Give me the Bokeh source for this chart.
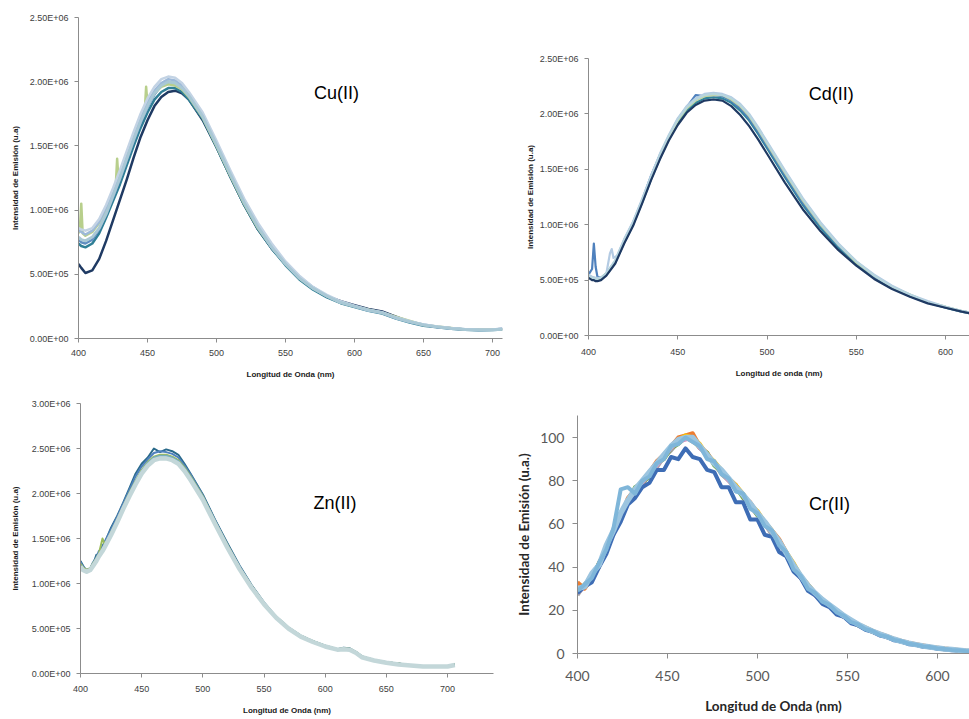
from bokeh.plotting import figure
from bokeh.models import Label, FixedTicker, Range1d
from bokeh.embed import file_html
from bokeh.resources import INLINE

# ---------------- DATA ----------------
# intensities of panels Cu, Cd, Zn are in units of 1e6 (a.u.)
cu_x = [400, 402, 405, 410, 415, 420, 425, 430, 435, 440, 445, 450, 455, 460, 465, 470, 475, 480, 490, 500,
        510, 520, 530, 540, 550, 560, 570, 580, 590, 600, 610, 620, 630, 640, 650, 660, 670, 680, 690, 700, 707]
cu_navy = [0.58, 0.55, 0.51, 0.53, 0.62, 0.76, 0.92, 1.08, 1.24, 1.41, 1.57, 1.70, 1.81, 1.88, 1.92, 1.93, 1.91, 1.86, 1.70, 1.49,
           1.26, 1.04, 0.85, 0.70, 0.58, 0.47, 0.39, 0.33, 0.29, 0.26, 0.23, 0.21, 0.17, 0.13, 0.105, 0.09, 0.08, 0.07, 0.068, 0.07, 0.074]
cu_teal = [0.74, 0.72, 0.71, 0.74, 0.82, 0.94, 1.07, 1.20, 1.35, 1.50, 1.64, 1.76, 1.86, 1.92, 1.95, 1.95, 1.92, 1.86, 1.71, 1.49,
           1.26, 1.04, 0.85, 0.70, 0.57, 0.46, 0.38, 0.32, 0.275, 0.245, 0.215, 0.195, 0.155, 0.125, 0.10, 0.088, 0.076, 0.068, 0.064, 0.066, 0.07]
cu_blue = [0.77, 0.75, 0.74, 0.77, 0.85, 0.97, 1.10, 1.24, 1.39, 1.54, 1.68, 1.80, 1.90, 1.97, 2.00, 1.99, 1.95, 1.88, 1.72, 1.50,
           1.27, 1.05, 0.86, 0.71, 0.58, 0.47, 0.39, 0.33, 0.28, 0.25, 0.22, 0.20, 0.16, 0.13, 0.105, 0.09, 0.078, 0.07, 0.066, 0.068, 0.072]
cu_green_x = [400, 401, 402, 403, 405, 410, 415, 420, 425, 427, 428, 429, 430, 435, 440, 445, 447, 448, 449, 450,
              455, 460, 465, 470, 475, 480, 490, 500, 510, 520, 530, 540, 550, 560, 570, 580, 590, 600, 620, 650, 680, 707]
cu_green = [0.82, 0.85, 1.05, 0.82, 0.80, 0.83, 0.90, 1.01, 1.14, 1.19, 1.40, 1.23, 1.26, 1.41, 1.56, 1.70, 1.74, 1.77, 1.96, 1.82,
            1.91, 1.96, 1.98, 1.97, 1.94, 1.88, 1.72, 1.50, 1.27, 1.05, 0.86, 0.71, 0.58, 0.47, 0.39, 0.33, 0.28, 0.25, 0.20, 0.105, 0.07, 0.072]
cu_lightblue = [0.84, 0.83, 0.81, 0.84, 0.91, 1.02, 1.15, 1.29, 1.44, 1.58, 1.72, 1.84, 1.93, 1.99, 2.02, 2.01, 1.97, 1.90, 1.74, 1.52,
                1.29, 1.07, 0.88, 0.72, 0.59, 0.48, 0.40, 0.33, 0.28, 0.25, 0.22, 0.20, 0.16, 0.13, 0.11, 0.092, 0.08, 0.072, 0.068, 0.07, 0.075]
cu_paleblue = [0.86, 0.85, 0.84, 0.86, 0.93, 1.04, 1.17, 1.31, 1.46, 1.61, 1.75, 1.87, 1.96, 2.02, 2.04, 2.03, 1.99, 1.92, 1.76, 1.54,
               1.31, 1.09, 0.90, 0.74, 0.60, 0.49, 0.40, 0.34, 0.29, 0.255, 0.225, 0.205, 0.165, 0.135, 0.11, 0.093, 0.081, 0.073, 0.069, 0.071, 0.076]
cu_cyan = [0.79, 0.77, 0.76, 0.79, 0.86, 0.97, 1.11, 1.25, 1.40, 1.55, 1.69, 1.81, 1.91, 1.97, 2.00, 1.99, 1.95, 1.89, 1.73, 1.51,
           1.28, 1.06, 0.87, 0.71, 0.58, 0.47, 0.39, 0.33, 0.28, 0.25, 0.22, 0.20, 0.16, 0.13, 0.105, 0.09, 0.078, 0.07, 0.066, 0.068, 0.072]

cd_x = [400, 402, 403, 404, 405, 407, 410, 415, 420, 425, 430, 435, 440, 445, 450, 455, 460, 465, 470, 475,
        480, 485, 490, 495, 500, 510, 520, 530, 540, 550, 560, 570, 580, 590, 600, 609, 614]
cd_navy = [0.52, 0.50, 0.50, 0.49, 0.49, 0.50, 0.54, 0.65, 0.83, 0.99, 1.19, 1.40, 1.59, 1.76, 1.90, 2.01, 2.08, 2.12, 2.13, 2.12,
           2.07, 1.99, 1.89, 1.77, 1.64, 1.38, 1.14, 0.94, 0.77, 0.63, 0.51, 0.42, 0.35, 0.29, 0.25, 0.215, 0.20]
cd_teal = [0.53, 0.51, 0.51, 0.50, 0.50, 0.51, 0.55, 0.66, 0.84, 1.00, 1.20, 1.41, 1.60, 1.77, 1.92, 2.03, 2.10, 2.14, 2.15, 2.14,
           2.10, 2.03, 1.94, 1.82, 1.69, 1.43, 1.18, 0.97, 0.79, 0.64, 0.52, 0.43, 0.355, 0.295, 0.25, 0.215, 0.20]
cd_blue = [0.55, 0.60, 0.83, 0.62, 0.53, 0.52, 0.56, 0.67, 0.86, 1.02, 1.22, 1.44, 1.63, 1.79, 1.95, 2.06, 2.17, 2.16, 2.17, 2.16,
           2.12, 2.05, 1.96, 1.84, 1.71, 1.45, 1.20, 0.99, 0.81, 0.66, 0.53, 0.44, 0.36, 0.30, 0.255, 0.22, 0.205]
cd_green = [0.54, 0.52, 0.52, 0.51, 0.51, 0.52, 0.56, 0.67, 0.85, 1.01, 1.21, 1.42, 1.62, 1.79, 1.94, 2.05, 2.12, 2.16, 2.17, 2.17,
            2.13, 2.07, 1.98, 1.86, 1.73, 1.47, 1.22, 1.00, 0.82, 0.66, 0.54, 0.44, 0.37, 0.30, 0.26, 0.22, 0.205]
cd_lightblue_x = [400, 402, 404, 406, 408, 410, 412, 413, 414, 416, 420, 425, 430, 435, 440, 445, 450, 455, 460, 465,
                  470, 475, 480, 485, 490, 495, 500, 510, 520, 530, 540, 550, 560, 570, 580, 590, 600, 609, 614]
cd_lightblue = [0.55, 0.53, 0.52, 0.52, 0.53, 0.56, 0.74, 0.78, 0.70, 0.72, 0.87, 1.03, 1.23, 1.44, 1.64, 1.81, 1.96, 2.07, 2.14, 2.18,
                2.19, 2.18, 2.15, 2.09, 2.00, 1.88, 1.75, 1.49, 1.24, 1.02, 0.83, 0.67, 0.55, 0.45, 0.37, 0.31, 0.26, 0.22, 0.205]
cd_pale = [0.54, 0.52, 0.52, 0.51, 0.51, 0.52, 0.56, 0.68, 0.86, 1.02, 1.22, 1.43, 1.63, 1.80, 1.95, 2.06, 2.13, 2.17, 2.18, 2.17,
           2.14, 2.08, 1.99, 1.87, 1.74, 1.48, 1.23, 1.01, 0.82, 0.67, 0.54, 0.44, 0.37, 0.30, 0.26, 0.22, 0.205]

zn_x = [400, 402, 405, 408, 410, 413, 415, 418, 420, 425, 430, 435, 440, 445, 450, 455, 460, 465, 470, 475,
        480, 485, 490, 500, 510, 520, 530, 540, 550, 560, 570, 580, 590, 600, 610, 615, 620, 625, 630, 640,
        650, 660, 670, 680, 690, 700, 706]
zn_dark = [1.25, 1.20, 1.13, 1.14, 1.20, 1.32, 1.30, 1.42, 1.46, 1.62, 1.75, 1.90, 2.06, 2.22, 2.33, 2.40, 2.50, 2.46, 2.49, 2.47,
           2.43, 2.33, 2.22, 1.99, 1.71, 1.45, 1.20, 0.98, 0.79, 0.63, 0.51, 0.42, 0.36, 0.31, 0.27, 0.285, 0.28, 0.24, 0.19, 0.15,
           0.125, 0.11, 0.09, 0.08, 0.08, 0.08, 0.10]
zn_blue = [1.24, 1.19, 1.15, 1.17, 1.23, 1.29, 1.36, 1.40, 1.47, 1.60, 1.74, 1.89, 2.04, 2.19, 2.30, 2.38, 2.45, 2.47, 2.46, 2.44,
           2.40, 2.31, 2.21, 1.98, 1.70, 1.44, 1.19, 0.97, 0.78, 0.63, 0.51, 0.42, 0.36, 0.31, 0.27, 0.28, 0.275, 0.24, 0.19, 0.15,
           0.125, 0.11, 0.09, 0.08, 0.08, 0.08, 0.10]
zn_green = [1.22, 1.18, 1.15, 1.17, 1.22, 1.28, 1.33, 1.50, 1.43, 1.57, 1.71, 1.86, 2.01, 2.14, 2.26, 2.35, 2.41, 2.43, 2.43, 2.41,
            2.37, 2.29, 2.19, 1.97, 1.69, 1.43, 1.18, 0.97, 0.78, 0.63, 0.51, 0.42, 0.36, 0.31, 0.27, 0.28, 0.275, 0.24, 0.19, 0.15,
            0.125, 0.11, 0.09, 0.08, 0.08, 0.08, 0.10]
zn_teal = [1.20, 1.16, 1.14, 1.16, 1.21, 1.27, 1.32, 1.38, 1.43, 1.56, 1.70, 1.85, 2.00, 2.13, 2.25, 2.34, 2.40, 2.42, 2.42, 2.40,
           2.36, 2.28, 2.18, 1.96, 1.68, 1.42, 1.17, 0.96, 0.77, 0.62, 0.50, 0.41, 0.355, 0.305, 0.265, 0.275, 0.27, 0.235, 0.185, 0.145,
           0.12, 0.105, 0.088, 0.078, 0.078, 0.078, 0.095]
zn_light = [1.19, 1.15, 1.13, 1.15, 1.19, 1.25, 1.30, 1.36, 1.41, 1.54, 1.68, 1.83, 1.97, 2.10, 2.22, 2.31, 2.37, 2.39, 2.39, 2.37,
            2.33, 2.25, 2.15, 1.93, 1.66, 1.40, 1.16, 0.95, 0.77, 0.62, 0.50, 0.41, 0.35, 0.30, 0.265, 0.27, 0.265, 0.23, 0.18, 0.145,
            0.12, 0.10, 0.088, 0.078, 0.078, 0.078, 0.095]

cr_x = [400, 404, 408, 412, 416, 420, 424, 428, 432, 436, 440, 444, 448, 452, 456, 460, 464, 468, 472, 476,
        480, 484, 488, 492, 496, 500, 504, 508, 512, 516, 520, 524, 528, 532, 536, 540, 544, 548, 552, 556,
        560, 564, 568, 572, 576, 580, 584, 588, 592, 596, 600, 604, 608, 612, 616, 620]
cr_orange = [33, 30, 35, 42, 48, 57, 63, 72, 76, 80, 84, 89, 92, 96, 100, 101, 102, 96, 93, 88,
             85, 81, 78, 73, 70, 65, 61, 57, 53, 47, 41, 36, 32, 28, 25, 22.5, 20, 17.5, 15.5, 13.5,
             12, 10.5, 9.2, 8, 6.8, 5.8, 5, 4.3, 3.7, 3.1, 2.7, 2.3, 2.0, 1.6, 1.3, 1.1]
cr_gray = [27, 32, 36, 40, 50, 55, 65, 70, 75, 78, 83, 86, 91, 94, 98, 100, 98, 96, 91, 88,
           83, 80, 76, 73, 68, 64, 60, 55, 51, 46, 40, 35, 31, 27, 24, 22, 19, 17, 15, 13,
           11.5, 10, 8.8, 7.5, 6.4, 5.4, 4.6, 4, 3.3, 2.9, 2.4, 2.0, 1.7, 1.4, 1.2, 1.0]
cr_gold = [30, 31, 37, 41, 49, 57, 64, 71, 76, 80, 84, 88, 92, 96, 99, 101, 100, 97, 92, 89,
           85, 81, 78, 74, 69, 66, 61, 57, 52, 47, 42, 36, 32, 28, 25, 22, 20, 17.5, 15, 13.5,
           12, 10.3, 9, 7.8, 6.7, 5.6, 4.8, 4.1, 3.5, 3, 2.5, 2.1, 1.8, 1.5, 1.2, 1.0]
cr_green = [29, 32, 35, 42, 48, 56, 65, 70, 77, 79, 82, 88, 90, 95, 97, 100, 99, 95, 93, 87,
            84, 81, 77, 72, 69, 64, 61, 56, 52, 46, 41, 35, 31, 28, 24, 22, 19.5, 17, 15, 13,
            11.8, 10, 8.9, 7.6, 6.5, 5.5, 4.7, 4, 3.4, 2.9, 2.4, 2.0, 1.7, 1.4, 1.2, 1.0]
cr_pink = [28, 31, 36, 41, 49, 56, 63, 71, 75, 79, 83, 87, 91, 95, 98, 99, 100, 95, 92, 88,
           84, 80, 77, 73, 68, 65, 60, 56, 51, 46, 40, 35, 31, 27, 24.5, 22, 19.5, 17, 15, 13.2,
           11.6, 10.1, 8.8, 7.6, 6.5, 5.5, 4.7, 4, 3.4, 2.9, 2.4, 2, 1.7, 1.4, 1.2, 1.0]
cr_dark = [28, 31, 33, 40, 46, 55, 61, 69, 72, 77, 79, 85, 85, 91, 90, 95, 91, 90, 85, 84,
           77, 77, 70, 70, 62, 62, 55, 54, 47, 45, 38, 35, 29, 27, 23, 21.5, 18, 17, 14, 13,
           11, 10, 8.3, 7.6, 6.1, 5.5, 4.3, 4.0, 3.1, 2.9, 2.2, 2.0, 1.5, 1.4, 1.0, 0.9]
cr_sky = [30, 31, 37, 41, 50, 57, 65, 71, 76, 80, 84, 88, 92, 96, 99, 100, 100, 96, 92, 88,
          85, 81, 77, 73.5, 69.5, 65, 61, 56.5, 52, 46.5, 41, 36, 31.5, 28, 25, 22.5, 20, 17.5, 15.5, 13.5,
          11.8, 10.3, 9, 7.8, 6.6, 5.6, 4.8, 4.1, 3.5, 3.0, 2.5, 2.1, 1.8, 1.5, 1.2, 1.0]
cr_light = [29, 32, 35, 42, 48, 58, 76, 77, 74, 80, 82, 88, 90, 96, 97, 100, 98, 96, 90, 89,
            83, 81, 75, 74, 67, 65, 59, 57, 50, 47, 39, 36, 30, 28, 24, 22.5, 19, 17.5, 14.5, 13.5,
            11.2, 10.4, 8.5, 7.8, 6.3, 5.7, 4.5, 4.1, 3.3, 3.0, 2.3, 2.1, 1.6, 1.5, 1.1, 1.0]

sci_ticks_25 = [0, 0.5, 1.0, 1.5, 2.0, 2.5]
sci_ticks_30 = [0, 0.5, 1.0, 1.5, 2.0, 2.5, 3.0]
x_ticks_700 = [400, 450, 500, 550, 600, 650, 700]
x_ticks_600 = [400, 450, 500, 550, 600]
cr_y_ticks = [0, 20, 40, 60, 80, 100]

AXIS_GRAY = "#8C8C8C"


def base_fig(left, top, w, h, xr, yr, bl, br, bt, bb):
    p = figure(width=w, height=h, x_range=Range1d(*xr), y_range=Range1d(*yr),
               output_backend="svg", toolbar_location=None,
               min_border_left=bl, min_border_right=br, min_border_top=bt, min_border_bottom=bb)
    p.styles = {"position": "absolute", "left": f"{left}px", "top": f"{top}px"}
    p.grid.visible = False
    p.outline_line_color = None
    p.background_fill_color = "white"
    p.border_fill_color = "white"
    for ax in (p.xaxis[0], p.yaxis[0]):
        ax.axis_line_color = AXIS_GRAY
        ax.major_tick_line_color = AXIS_GRAY
        ax.minor_tick_line_color = None
        ax.major_tick_in = 0
        ax.major_tick_out = 4
    return p


def style_small(p, yticks, xticks, ylab, xlab, ystand, xstand):
    p.yaxis.ticker = FixedTicker(ticks=yticks)
    p.yaxis.major_label_overrides = {t: f"{t * 1e6:.2E}" for t in yticks}
    p.xaxis.ticker = FixedTicker(ticks=xticks)
    for ax in (p.xaxis[0], p.yaxis[0]):
        ax.major_label_text_font = "Liberation Sans"
        ax.major_label_text_font_size = "9px"
        ax.major_label_text_color = "#404040"
        ax.axis_label_text_font = "Liberation Sans"
        ax.axis_label_text_font_size = "8px"
        ax.axis_label_text_font_style = "bold"
        ax.axis_label_text_color = "#1a1a1a"
    p.yaxis.major_label_standoff = 6
    p.xaxis.major_label_standoff = 7
    p.yaxis.axis_label = ylab
    p.xaxis.axis_label = xlab
    p.yaxis.axis_label_standoff = ystand
    p.xaxis.axis_label_standoff = xstand


def add_lines(p, series, width):
    for x, y, c in series:
        p.line(x=x, y=y, line_color=c, line_width=width, line_join="round")


def add_tag(p, x, y, text):
    p.add_layout(Label(x=x, y=y, text=text, text_font="Liberation Sans", text_font_size="18px",
                       text_align="center", text_baseline="middle", text_color="black"))


# ---------------- Cu(II) ----------------
p1 = base_fig(0, 0, 515, 382, (400, 707.2), (0, 2.5), 78, 13, 17, 44)
style_small(p1, sci_ticks_25, x_ticks_700, "Intensidad de Emisión (u.a)", "Longitud de Onda (nm)", 7, 11)
add_lines(p1, [
    (cu_x, cu_navy, "#1F3A63"),
    (cu_x, cu_teal, "#2F7F96"),
    (cu_x, cu_blue, "#5F8DC0"),
    (cu_green_x, cu_green, "#B8CF8C"),
    (cu_x, cu_lightblue, "#9DB9D9"),
    (cu_x, cu_paleblue, "#C3D3E4"),
], 2.5)
p1.line(x=cu_x, y=cu_cyan, line_color="#A9C8D5", line_width=3)
add_tag(p1, 587, 1.91, "Cu(II)")

# ---------------- Cd(II) ----------------
p2 = base_fig(515, 0, 454, 382, (400, 613.4), (0, 2.5), 73, 0, 58, 47)
style_small(p2, sci_ticks_25, x_ticks_600, "Intensidad de Emisión (u.a)", "Longitud de onda (nm)", 2, 11)
p2.xaxis.major_label_standoff = 9
add_lines(p2, [
    (cd_x, cd_teal, "#31859C"),
    (cd_x, cd_blue, "#4F81BD"),
    (cd_x, cd_green, "#C3D69B"),
    (cd_lightblue_x, cd_lightblue, "#B4CBE3"),
    (cd_x, cd_pale, "#B7D5DE"),
    (cd_x, cd_navy, "#1F3A63"),
], 2.2)
add_tag(p2, 536, 2.18, "Cd(II)")

# ---------------- Zn(II) ----------------
p3 = base_fig(0, 382, 508, 337, (400, 737.6), (0, 3.0), 80, 15, 21, 46)
style_small(p3, sci_ticks_30, x_ticks_700, "Intensidad de Emisión (u.a)", "Longitud de Onda (nm)", 9, 11)
p3.xaxis.major_label_standoff = 8
add_lines(p3, [
    (zn_x, zn_dark, "#2A6A8A"),
    (zn_x, zn_blue, "#4F81BD"),
    (zn_x, zn_green, "#9BBB59"),
    (zn_x, zn_teal, "#78AEBD"),
], 2.0)
p3.line(x=zn_x, y=zn_light, line_color="#C3D7D9", line_width=4.5, line_join="round")
add_tag(p3, 608, 1.89, "Zn(II)")

# ---------------- Cr(II) ----------------
p4 = base_fig(508, 382, 461, 337, (400, 617.8), (0, 110.2), 69, 0, 33, 66)
p4.yaxis.ticker = FixedTicker(ticks=cr_y_ticks)
p4.xaxis.ticker = FixedTicker(ticks=x_ticks_600)
for ax in (p4.xaxis[0], p4.yaxis[0]):
    ax.major_tick_out = 5
    ax.major_label_text_font = "Lato"
    ax.major_label_text_font_size = "14px"
    ax.major_label_text_color = "#595959"
    ax.axis_label_text_font = "Lato"
    ax.axis_label_text_font_size = "13.5px"
    ax.axis_label_text_font_style = "bold"
    ax.axis_label_text_color = "#262626"
p4.yaxis.major_label_standoff = 8
p4.xaxis.major_label_standoff = 12
p4.yaxis.axis_label = "Intensidad de Emisión (u.a.)"
p4.xaxis.axis_label = "Longitud de Onda (nm)"
p4.yaxis.axis_label_standoff = 5
p4.xaxis.axis_label_standoff = 14
add_lines(p4, [
    (cr_x, cr_orange, "#ED7D31"),
    (cr_x, cr_gray, "#A5A5A5"),
    (cr_x, cr_gold, "#FFC000"),
    (cr_x, cr_green, "#70AD47"),
    (cr_x, cr_pink, "#D98CBF"),
    (cr_x, cr_dark, "#3E6DB5"),
], 4)
p4.line(x=cr_x, y=cr_sky, line_color="#9CC5E0", line_width=5.5, line_join="round")
p4.line(x=cr_x, y=cr_light, line_color="#7FB6D9", line_width=4, line_join="round")
add_tag(p4, 540, 69.4, "Cr(II)")

open("out.html", "w").write(file_html([p1, p2, p3, p4], INLINE))
